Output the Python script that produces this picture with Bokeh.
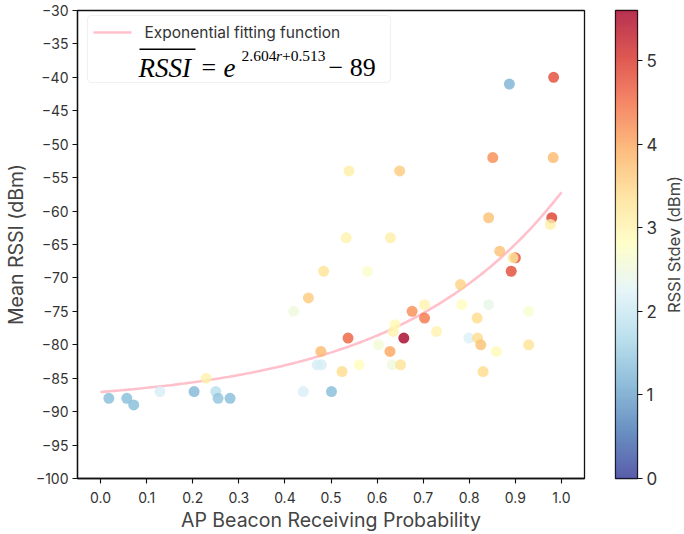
import numpy as np
from bokeh.plotting import figure
from bokeh.layouts import row
from bokeh.models import (ColumnDataSource, LinearColorMapper, FixedTicker,
                          Range1d, Label, BoxAnnotation)
from bokeh.embed import file_html
from bokeh.resources import INLINE

# ---------------- data ----------------
prob = [0.018, 0.057, 0.072, 0.129, 0.203, 0.229, 0.250, 0.255, 0.281, 0.419,
        0.440, 0.451, 0.470, 0.479, 0.478, 0.484, 0.501, 0.524, 0.533, 0.537,
        0.539, 0.561, 0.579, 0.603, 0.628, 0.629, 0.633, 0.635, 0.639, 0.649,
        0.651, 0.658, 0.676, 0.703, 0.703, 0.729, 0.781, 0.784, 0.799, 0.817,
        0.818, 0.825, 0.830, 0.842, 0.842, 0.851, 0.859, 0.866, 0.887, 0.891,
        0.900, 0.895, 0.929, 0.929, 0.979, 0.976, 0.982, 0.983]
rssi_mean = [-88, -88, -89, -87, -87, -85, -87, -88, -88, -75,
             -87, -73, -83, -83, -81, -69, -87, -84, -64, -79,
             -54, -83, -69, -80, -81, -64, -83, -78, -77, -54,
             -83, -79, -75, -76, -74, -78, -71, -74, -79, -76,
             -79, -80, -84, -74, -61, -52, -81, -66, -41, -69,
             -67, -67, -75, -80, -61, -62, -52, -40]
rssi_std = [1.3, 1.3, 1.3, 2.1, 1.25, 3.0, 1.8, 1.4, 1.3, 2.5,
            2.15, 3.6, 2.1, 2.1, 3.8, 3.3, 1.3, 3.4, 3.0, 4.6,
            3.1, 2.8, 2.7, 2.6, 4.0, 3.1, 2.5, 3.0, 2.95, 3.6,
            3.3, 5.6, 4.2, 4.4, 3.0, 3.0, 3.5, 2.8, 2.2, 3.4,
            3.4, 3.7, 3.4, 2.4, 3.7, 4.2, 2.9, 3.7, 1.2, 4.8,
            4.8, 3.2, 2.65, 3.3, 4.9, 3.1, 3.8, 4.8]

# exponential fit as drawn: RSSI = exp(a*r + b) + c
fit_a = 2.80
fit_b = 0.66
fit_c = -89.0

x_ticks = [0.0, 0.1, 0.2, 0.3, 0.4, 0.5, 0.6, 0.7, 0.8, 0.9, 1.0]
x_tick_labels = ["0.0", "0.1", "0.2", "0.3", "0.4", "0.5", "0.6", "0.7", "0.8", "0.9", "1.0"]
y_ticks = [-100, -95, -90, -85, -80, -75, -70, -65, -60, -55, -50, -45, -40, -35, -30]
cb_ticks = [0, 1, 2, 3, 4, 5]
std_min, std_max = 0.0, 5.6

legend_text = "Exponential fitting function"
cb_title = "RSSI Stdev (dBm)"

# ---------------- palette: RdYlBu reversed ----------------
rdylbu = ["#a50026", "#d73027", "#f46d43", "#fdae61", "#fee090", "#ffffbf",
          "#e0f3f8", "#abd9e9", "#74add1", "#4575b4", "#313695"][::-1]


def _interp_palette(stops, n=256):
    rgb = np.array([[int(h[i:i + 2], 16) for i in (1, 3, 5)] for h in stops], dtype=float)
    pos = np.linspace(0, 1, len(stops))
    t = np.linspace(0, 1, n)
    out = []
    for ti in t:
        c = [np.interp(ti, pos, rgb[:, k]) for k in range(3)]
        out.append("#%02x%02x%02x" % tuple(int(round(v)) for v in c))
    return out


palette = _interp_palette(rdylbu)

FONT = "Inter"
TXT = "#333333"
LBL = "#444444"
INK = "#111111"


def style_axis(ax, label_size="14px"):
    ax.axis_line_color = INK
    ax.axis_line_width = 1.3
    ax.major_tick_line_color = INK
    ax.major_tick_line_width = 1.1
    ax.major_tick_in = 0
    ax.major_tick_out = 5
    ax.minor_tick_line_color = None
    ax.major_label_text_font = FONT
    ax.major_label_text_font_size = label_size
    ax.major_label_text_color = TXT
    ax.axis_label_text_font = FONT
    ax.axis_label_text_font_size = "19.5px"
    ax.axis_label_text_font_style = "normal"
    ax.axis_label_text_color = LBL


p = figure(width=600, height=534, x_range=Range1d(-0.05, 1.05), y_range=Range1d(-100, -30),
           output_backend="svg", toolbar_location=None,
           min_border_left=77, min_border_right=16, min_border_top=10, min_border_bottom=53)
p.xgrid.visible = False
p.ygrid.visible = False
p.outline_line_color = INK
p.outline_line_width = 1.3
p.background_fill_color = "white"
p.border_fill_color = "white"

style_axis(p.xaxis[0])
style_axis(p.yaxis[0])
p.xaxis.ticker = FixedTicker(ticks=x_ticks)
p.xaxis.major_label_overrides = {t: s for t, s in zip(x_ticks, x_tick_labels)}
p.xaxis.axis_label = "AP Beacon Receiving Probability"
p.xaxis.major_label_standoff = 8
p.xaxis.axis_label_standoff = 2
p.yaxis.ticker = FixedTicker(ticks=y_ticks)
p.yaxis.axis_label = "Mean RSSI (dBm)"
p.yaxis.major_label_standoff = 4
p.yaxis.axis_label_standoff = 5

mapper = LinearColorMapper(palette=palette, low=std_min, high=std_max)

# fitted curve
r = np.linspace(0.0, 1.0, 200)
fit_y = np.exp(fit_a * r + fit_b) + fit_c
p.line(r, fit_y, line_color="pink", line_width=2.6)

src = ColumnDataSource(dict(x=prob, y=rssi_mean, s=rssi_std))
p.scatter("x", "y", source=src, size=11,
          fill_color={"field": "s", "transform": mapper}, fill_alpha=0.8, line_color=None)

# ---------------- custom legend (screen units, frame origin bottom-left) ----------------
p.add_layout(BoxAnnotation(left=10, right=313, bottom=396, top=463,
                           left_units="screen", right_units="screen",
                           bottom_units="screen", top_units="screen",
                           fill_color="white", fill_alpha=0.85,
                           line_color="#d0d0d0", line_width=1.2, border_radius=4))
p.add_layout(BoxAnnotation(left=16, right=54, bottom=444.7, top=447.3,
                           left_units="screen", right_units="screen",
                           bottom_units="screen", top_units="screen",
                           fill_color="pink", fill_alpha=1, line_color=None))
p.add_layout(Label(x=67, y=446, x_units="screen", y_units="screen", text=legend_text,
                   text_font=FONT, text_font_size="15.5px", text_color=TXT,
                   text_baseline="middle"))

SERIF = "Liberation Serif"
base_y = 411


def math_label(x, y, text, size, italic=False):
    p.add_layout(Label(x=x, y=y, x_units="screen", y_units="screen", text=text,
                       text_font=SERIF, text_font_style="italic" if italic else "normal",
                       text_font_size=size, text_color="black", text_baseline="alphabetic"))


math_label(61, base_y, "RSSI", "27px", italic=True)
p.add_layout(BoxAnnotation(left=62, right=118, bottom=428.6, top=429.9,
                           left_units="screen", right_units="screen",
                           bottom_units="screen", top_units="screen",
                           fill_color="black", fill_alpha=1, line_color=None))
math_label(124, base_y, "=", "26px")
math_label(146, base_y, "e", "27px", italic=True)
sup_y = base_y + 12
math_label(164, sup_y, "2.604", "15.5px")
math_label(198.5, sup_y, "r", "15.5px", italic=True)
math_label(204.5, sup_y, "+0.513", "15.5px")
math_label(251, base_y, "\u2212 89", "26px")

# ---------------- colour bar as its own small figure ----------------
cbf = figure(width=60, height=534, x_range=Range1d(0, 1), y_range=Range1d(std_min, std_max),
             output_backend="svg", toolbar_location=None,
             x_axis_location=None, y_axis_location="right",
             min_border_left=15, min_border_right=20, min_border_top=10, min_border_bottom=53)
cbf.xgrid.visible = False
cbf.ygrid.visible = False
cbf.outline_line_color = INK
cbf.outline_line_width = 1.3
cbf.border_fill_color = "white"
grad = np.linspace(std_min, std_max, 256).reshape(-1, 1)
cbf.image(image=[grad], x=0, y=std_min, dw=1, dh=std_max - std_min,
          color_mapper=mapper, global_alpha=0.8)
cax = cbf.yaxis[0]
style_axis(cax, label_size="17px")
cax.axis_line_color = None
cax.ticker = FixedTicker(ticks=cb_ticks)
cax.major_label_standoff = 4

# ---------------- colour-bar title in its own narrow strip ----------------
tf = figure(width=24, height=534, x_range=Range1d(0, 1), y_range=Range1d(0, 1),
            output_backend="svg", toolbar_location=None,
            x_axis_location=None, y_axis_location=None,
            min_border_left=0, min_border_right=0, min_border_top=10, min_border_bottom=53)
tf.xgrid.visible = False
tf.ygrid.visible = False
tf.outline_line_color = None
tf.border_fill_color = "white"
tf.add_layout(Label(x=0.56, y=0.5, text=cb_title, angle=np.pi / 2,
                    text_align="center", text_baseline="middle",
                    text_font=FONT, text_font_size="16.5px", text_color=LBL))

layout = row(p, cbf, tf)
open("out.html", "w").write(file_html(layout, INLINE))
